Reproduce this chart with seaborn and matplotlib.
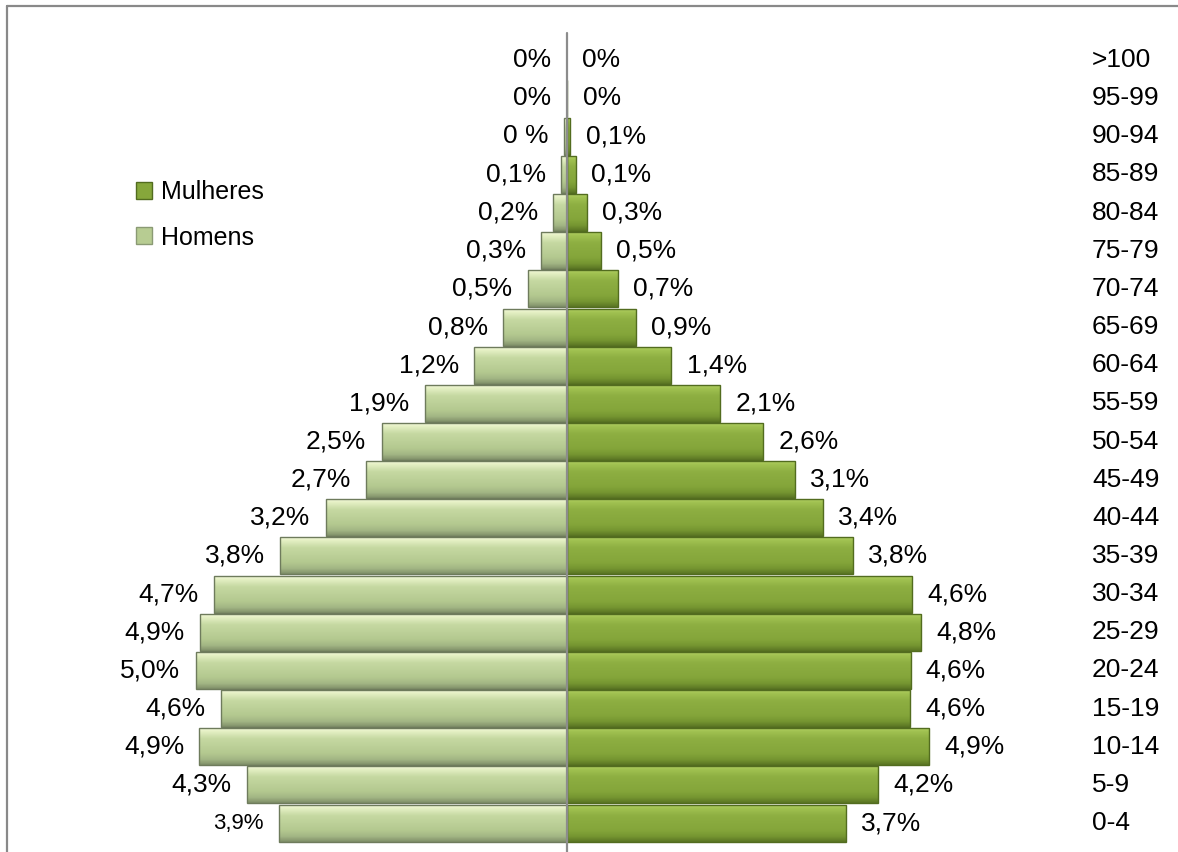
import numpy as np
import pandas as pd
import matplotlib
matplotlib.use("Agg")
import matplotlib.pyplot as plt
import seaborn as sns
from matplotlib.patches import Patch
from matplotlib.lines import Line2D
from matplotlib.colors import to_rgb

# ==================================================
# DATA (top row first)
# ==================================================
faixas = [">100", "95-99", "90-94", "85-89", "80-84", "75-79", "70-74",
          "65-69", "60-64", "55-59", "50-54", "45-49", "40-44", "35-39",
          "30-34", "25-29", "20-24", "15-19", "10-14", "5-9", "0-4"]

homens = [0.0, 0.0, 0.04, 0.07, 0.18, 0.34, 0.52, 0.85, 1.24, 1.91, 2.49,
          2.70, 3.24, 3.85, 4.75, 4.93, 4.99, 4.65, 4.94, 4.30, 3.87]
mulheres = [0.0, 0.01, 0.05, 0.13, 0.27, 0.46, 0.69, 0.93, 1.41, 2.07, 2.65,
            3.07, 3.45, 3.85, 4.65, 4.77, 4.63, 4.62, 4.88, 4.19, 3.76]

rotulos_homens = ["0%", "0%", "0 %", "0,1%", "0,2%", "0,3%", "0,5%", "0,8%",
                  "1,2%", "1,9%", "2,5%", "2,7%", "3,2%", "3,8%", "4,7%",
                  "4,9%", "5,0%", "4,6%", "4,9%", "4,3%", "3,9%"]
rotulos_mulheres = ["0%", "0%", "0,1%", "0,1%", "0,3%", "0,5%", "0,7%",
                    "0,9%", "1,4%", "2,1%", "2,6%", "3,1%", "3,4%", "3,8%",
                    "4,6%", "4,8%", "4,6%", "4,6%", "4,9%", "4,2%", "3,7%"]

df = pd.DataFrame({
    "faixa": faixas * 2,
    "sexo": ["Homens"] * len(faixas) + ["Mulheres"] * len(faixas),
    "valor": [-v for v in homens] + mulheres,
})

# ==================================================
# STYLING
# ==================================================
sns.set_style("white")
plt.rcParams["font.family"] = ["Liberation Sans", "DejaVu Sans"]

cor_homens = "#b7cc92"
cor_mulheres = "#86a73b"

grad_homens = [(0.0, "#f6fbe0"), (0.10, "#e6f1c6"), (0.30, "#c6d9a2"),
               (0.70, "#b3c88f"), (0.86, "#a2b584"), (1.0, "#7f8f68")]
grad_mulheres = [(0.0, "#b9d66c"), (0.10, "#a2c352"), (0.30, "#8eaf42"),
                 (0.70, "#84a53a"), (0.86, "#759531"), (1.0, "#5a7524")]


def gradiente(stops, n=64):
    pos = [s[0] for s in stops]
    cols = np.array([to_rgb(s[1]) for s in stops])
    t = np.linspace(0, 1, n)
    arr = np.stack([np.interp(t, pos, cols[:, k]) for k in range(3)], axis=-1)
    return arr[:, None, :]


fig = plt.figure(figsize=(11.78, 8.52), dpi=100)
ax = fig.add_axes([0, 0, 1, 1])

sns.barplot(
    data=df,
    x="valor",
    y="faixa",
    hue="sexo",
    order=faixas,
    hue_order=["Homens", "Mulheres"],
    palette={"Homens": cor_homens, "Mulheres": cor_mulheres},
    dodge=False,
    width=0.97,
    orient="h",
    errorbar=None,
    legend=False,
    ax=ax,
)

# bevel-like gradient inside every bar
for cont, stops, edge in zip(ax.containers,
                             [grad_homens, grad_mulheres],
                             ["#6e7b5c", "#526c1f"]):
    img = gradiente(stops)
    for p in cont:
        w = p.get_width()
        if abs(w) < 1e-9:
            continue
        x0, y0, h = p.get_x(), p.get_y(), p.get_height()
        im = ax.imshow(img, extent=[x0, x0 + w, y0 + h, y0], origin="upper",
                       aspect="auto", zorder=2, interpolation="bilinear")
        im.set_clip_path(p)
        p.set_facecolor("none")
        p.set_edgecolor(edge)
        p.set_linewidth(1.0)
        p.set_zorder(3)

# axis limits (px: center ~566, ~74 px per %)
ax.set_xlim(-7.625, 8.23)
ax.set_ylim(20.76, -1.573)
ax.axis("off")

# center line
ax.axvline(0, ymin=0, ymax=0.961, color="#8c8c8c", lw=1.6, zorder=4)

# value labels
for i in range(len(faixas)):
    tam = 16 if faixas[i] == "0-4" else 19
    ax.annotate(rotulos_homens[i], xy=(-homens[i], i), xytext=(-11, 0),
                textcoords="offset points", ha="right", va="center",
                fontsize=tam, color="black")
    ax.annotate(rotulos_mulheres[i], xy=(mulheres[i], i), xytext=(11, 0),
                textcoords="offset points", ha="left", va="center",
                fontsize=19, color="black")

# age group labels on the right
for i, f in enumerate(faixas):
    ax.text(0.927, i, f, transform=ax.get_yaxis_transform(), ha="left",
            va="center", fontsize=19, color="black")

# legend
handles = [Patch(facecolor=cor_mulheres, edgecolor="#526c1f"),
           Patch(facecolor=cor_homens, edgecolor="#8a9a74")]
ax.legend(handles, ["Mulheres", "Homens"], loc="upper left",
          bbox_to_anchor=(0.105, 0.803), bbox_transform=fig.transFigure,
          frameon=False, borderpad=0, fontsize=18, handlelength=0.65,
          handleheight=0.65, handletextpad=0.35, labelspacing=0.85,
          labelcolor="black")

# frame lines at top and left
fig.add_artist(Line2D([0.006, 1.0], [0.9933, 0.9933], transform=fig.transFigure,
                      color="#898989", lw=1.6))
fig.add_artist(Line2D([0.006, 0.006], [0.0, 0.9933], transform=fig.transFigure,
                      color="#898989", lw=1.6))

fig.savefig("out.png", dpi=100)
